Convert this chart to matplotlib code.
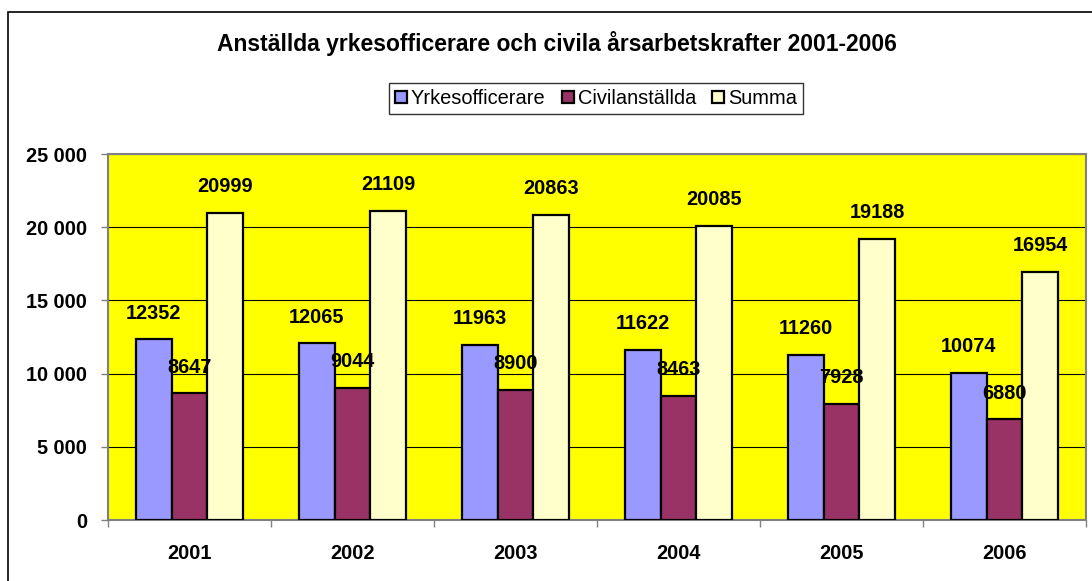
import matplotlib
matplotlib.use("Agg")
import matplotlib.pyplot as plt
import matplotlib.patches as mpatches
from matplotlib.ticker import FuncFormatter, MultipleLocator
import numpy as np

plt.rcParams['font.family'] = ['Liberation Sans', 'DejaVu Sans']

years = ["2001", "2002", "2003", "2004", "2005", "2006"]
series_names = ["Yrkesofficerare", "Civilanställda", "Summa"]
yrkesofficerare = [12352, 12065, 11963, 11622, 11260, 10074]
civilanstallda = [8647, 9044, 8900, 8463, 7928, 6880]
summa = [20999, 21109, 20863, 20085, 19188, 16954]
colors = ["#9999FF", "#993366", "#FFFFCC"]

W, H = 1092, 581
fig = plt.figure(figsize=(W / 100, H / 100), dpi=100)

# outer chart border
fig.patches.append(mpatches.Rectangle((8 / W, -0.1), 1.2, (H - 12) / H + 0.1,
                                      transform=fig.transFigure, fill=False,
                                      edgecolor="black", linewidth=1.2))

ax = fig.add_axes([108 / W, (H - 520) / H, (1086 - 108) / W, (520 - 154) / H])
ax.set_facecolor("#FFFF00")

NUM_FS = 14.3

x = np.arange(len(years))
bw = 0.22
data = [yrkesofficerare, civilanstallda, summa]
for i, (vals, c, name) in enumerate(zip(data, colors, series_names)):
    bars = ax.bar(x + (i - 1) * bw, vals, width=bw, color=c, edgecolor="black",
                  linewidth=1.6, label=name, zorder=3)
    for b, v in zip(bars, vals):
        ax.annotate(str(v), (b.get_x() + b.get_width() / 2, v),
                    xytext=(0, 12), textcoords="offset points",
                    ha="center", va="bottom", fontsize=NUM_FS,
                    fontweight="bold", zorder=4)

ax.set_xlim(-0.5, len(years) - 0.5)
ax.set_ylim(0, 25000)
ax.yaxis.set_major_locator(MultipleLocator(5000))
ax.yaxis.set_major_formatter(FuncFormatter(lambda v, p: f"{int(v):,}".replace(",", " ")))
ax.grid(axis="y", color="black", linewidth=0.8, zorder=1)
ax.set_axisbelow(True)

ax.set_xticks(x)
ax.set_xticklabels(years)
ax.set_xticks(np.arange(-0.5, len(years)), minor=True)
ax.tick_params(axis="x", which="major", length=0, pad=17)
ax.tick_params(axis="x", which="minor", length=5, width=1, color="#808080", direction="out")
ax.tick_params(axis="y", length=5, width=1, color="#808080", direction="out", pad=10)
for lab in ax.get_xticklabels() + ax.get_yticklabels():
    lab.set_fontweight("bold")
    lab.set_fontsize(NUM_FS)

for s in ax.spines.values():
    s.set_color("#808080")
    s.set_linewidth(1.5)

fig.text(556.5 / W, (H - 44) / H, "Anställda yrkesofficerare och civila årsarbetskrafter 2001-2006",
         ha="center", va="center", fontsize=16.5, fontweight="bold")

leg = fig.legend(loc="upper left", bbox_to_anchor=(389 / W, (H - 83) / H), ncol=3,
                 frameon=True, fancybox=False, edgecolor="black", fontsize=14.4,
                 handlelength=0.6, handleheight=0.6, handletextpad=0.2,
                 columnspacing=0.8, borderpad=0.3, borderaxespad=0)
leg.get_frame().set_linewidth(1.0)
for h in leg.legend_handles:
    h.set_linewidth(1.6)

fig.savefig("out.png", dpi=100)
